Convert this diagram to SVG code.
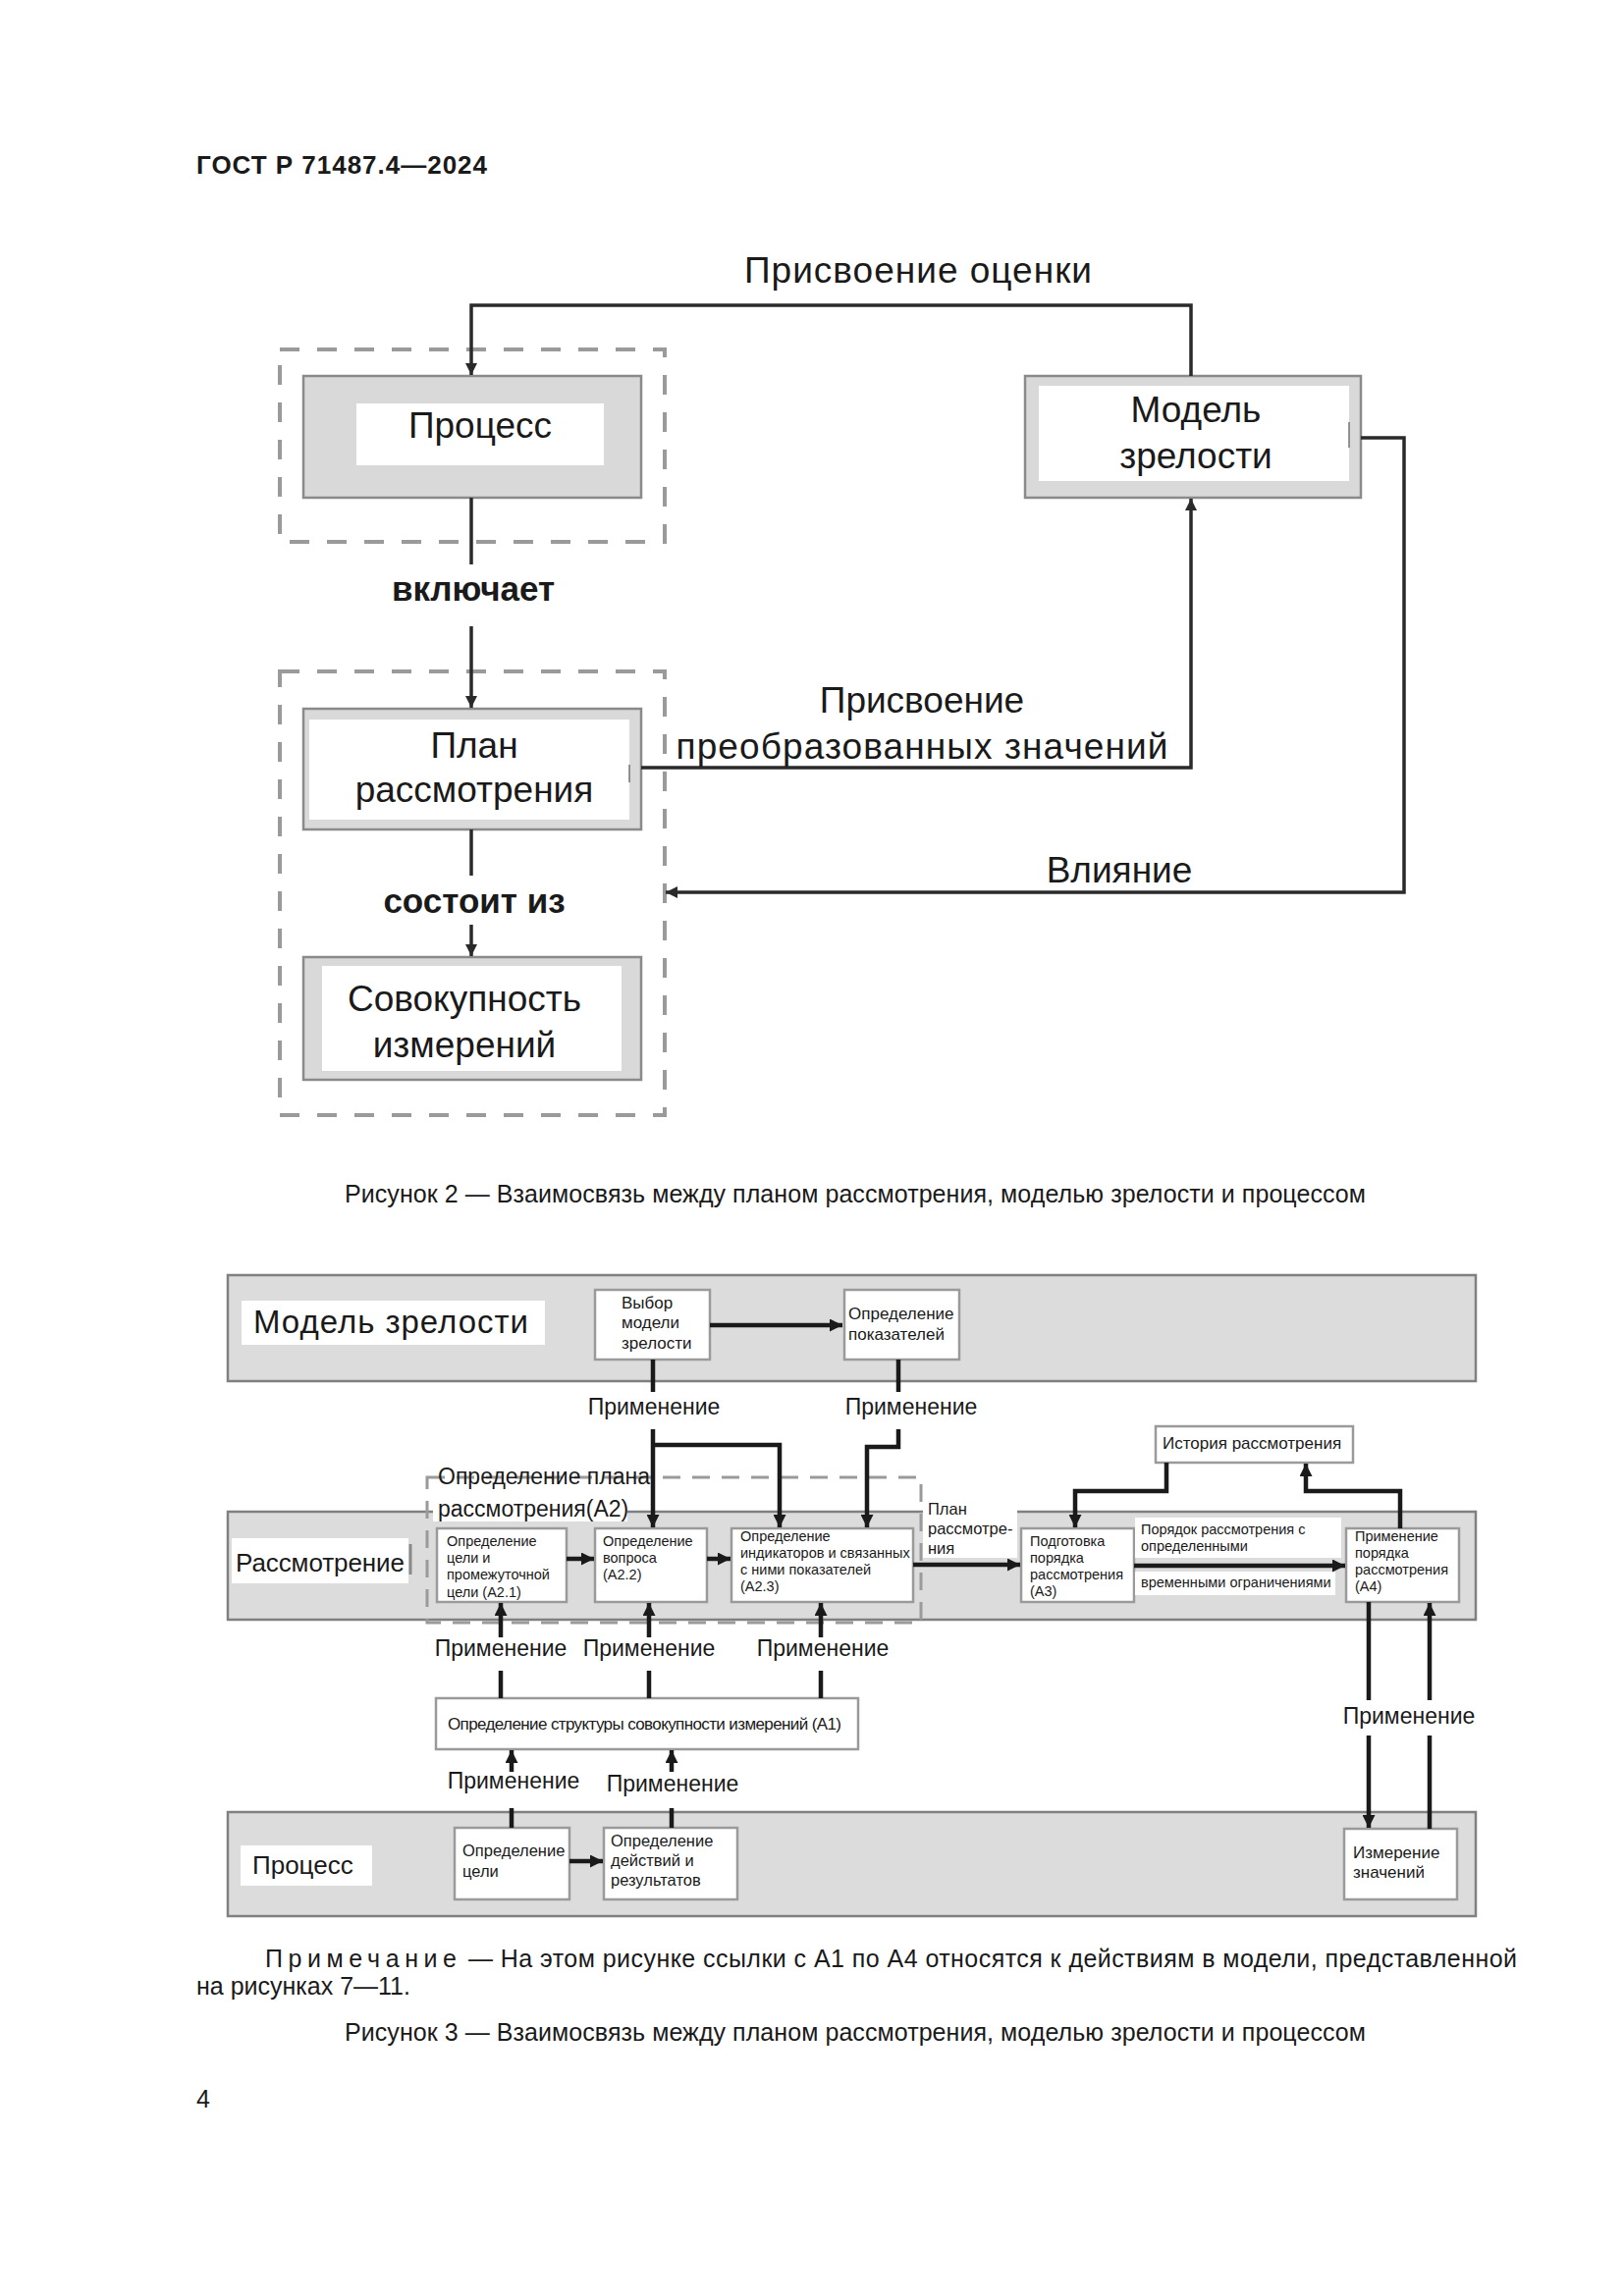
<svg xmlns="http://www.w3.org/2000/svg" width="1654" height="2339" viewBox="0 0 1654 2339">
<defs>
<style>
text{font-family:"Liberation Sans",Arial,sans-serif;fill:#1a1a1a}
.f2{font-size:37px}
.mid{text-anchor:middle}
.dash{fill:none;stroke:#9a9a9a;stroke-width:4;stroke-dasharray:20 18}
.dash3{fill:none;stroke:#9a9a9a;stroke-width:3;stroke-dasharray:18 12}
.gbox{fill:#d9d9d9;stroke:#8a8a8a;stroke-width:2.5}
.inner{fill:#ffffff}
.c2{fill:none;stroke:#2a2a2a;stroke-width:3.5}
.band{fill:#dcdcdc;stroke:#808080;stroke-width:2.5}
.wb{fill:#ffffff;stroke:#9a9a9a;stroke-width:2.5}
.lbl{fill:#ffffff}
.c3{fill:none;stroke:#1a1a1a;stroke-width:4.5}
.s{font-size:14.5px}
.m{font-size:17px}
.p{font-size:16.5px}
.ap{font-size:23px;text-anchor:middle}
.cap{font-size:25px}
.bl{font-size:35px;font-weight:bold;text-anchor:middle}
</style>
<marker id="ah2" viewBox="0 0 10 10" refX="10" refY="5" markerWidth="14" markerHeight="12" markerUnits="userSpaceOnUse" orient="auto"><path d="M0,0 L10,5 L0,10 z" fill="#2a2a2a"/></marker>
<marker id="ah3" viewBox="0 0 10 10" refX="10" refY="5" markerWidth="14" markerHeight="13" markerUnits="userSpaceOnUse" orient="auto"><path d="M0,0 L10,5 L0,10 z" fill="#1a1a1a"/></marker>
</defs>
<rect width="1654" height="2339" fill="#ffffff"/>

<text x="200" y="177" font-size="26" font-weight="bold" textLength="296">ГОСТ Р 71487.4—2024</text>

<!-- ============ FIGURE 2 ============ -->
<g id="fig2-group-process"><rect class="dash" x="285" y="356" width="392" height="196"/></g>
<g id="fig2-group-plan"><rect class="dash" x="285" y="684" width="392" height="452"/></g>

<g id="fig2-process">
<rect class="gbox" x="309" y="383" width="344" height="124"/>
<rect class="inner" x="363" y="411" width="252" height="63"/>
<text class="f2 mid" x="489" y="446">Процесс</text>
</g>

<g id="fig2-maturity-model">
<rect class="gbox" x="1044" y="383" width="342" height="124" fill="#e2e2e2"/>
<rect class="inner" x="1058" y="393" width="316" height="97"/>
<line x1="1374" y1="430" x2="1374" y2="456" stroke="#555" stroke-width="1.2"/>
<text class="f2 mid" x="1218" y="430">Модель</text>
<text class="f2 mid" x="1218" y="477">зрелости</text>
</g>

<g id="fig2-plan">
<rect class="gbox" x="309" y="722" width="344" height="123"/>
<rect class="inner" x="315" y="733" width="326" height="102"/>
<line x1="641" y1="779" x2="641" y2="797" stroke="#555" stroke-width="1.2"/>
<text class="f2 mid" x="483" y="772">План</text>
<text class="f2 mid" x="483" y="817">рассмотрения</text>
</g>

<g id="fig2-measures">
<rect class="gbox" x="309" y="975" width="344" height="125"/>
<rect class="inner" x="328" y="984" width="305" height="107"/>
<text class="f2 mid" x="473" y="1030">Совокупность</text>
<text class="f2 mid" x="473" y="1077">измерений</text>
</g>

<g id="fig2-connectors">
<path class="c2" d="M1213,383 V311 H480 V382" marker-end="url(#ah2)"/>
<line class="c2" x1="480" y1="507" x2="480" y2="575"/>
<path class="c2" d="M480,638 V721" marker-end="url(#ah2)"/>
<path class="c2" d="M653,782 H1213 V508" marker-end="url(#ah2)"/>
<line class="c2" x1="480" y1="845" x2="480" y2="892"/>
<path class="c2" d="M480,942 V974" marker-end="url(#ah2)"/>
<path class="c2" d="M1386,446 H1430 V909 H678" marker-end="url(#ah2)"/>
</g>

<g id="fig2-labels">
<text class="f2 mid" x="935" y="288" textLength="354">Присвоение оценки</text>
<text class="bl" x="482" y="612">включает</text>
<text class="f2 mid" x="939" y="726">Присвоение</text>
<text class="f2 mid" x="939" y="773" textLength="501">преобразованных значений</text>
<text class="bl" x="483" y="930">состоит из</text>
<text class="f2 mid" x="1140" y="899">Влияние</text>
</g>

<text class="cap" x="351" y="1225" textLength="1040">Рисунок 2 — Взаимосвязь между планом рассмотрения, моделью зрелости и процессом</text>

<!-- ============ FIGURE 3 ============ -->
<g id="band-maturity">
<rect class="band" x="232" y="1299" width="1271" height="108"/>
<rect class="lbl" x="246" y="1325" width="309" height="45"/>
<text x="258" y="1358" font-size="33" textLength="280">Модель зрелости</text>
</g>

<g id="band-review">
<rect class="band" x="232" y="1540" width="1271" height="110"/>
<rect class="lbl" x="236" y="1567" width="180" height="46"/>
<text x="240" y="1601" font-size="26" textLength="172">Рассмотрение</text>
<line x1="418" y1="1573" x2="418" y2="1604" stroke="#8a8a8a" stroke-width="3"/>
</g>

<g id="band-process">
<rect class="band" x="232" y="1846" width="1271" height="106"/>
<rect class="lbl" x="245" y="1880" width="134" height="41"/>
<text x="257" y="1909" font-size="26">Процесс</text>
</g>

<g id="group-A2">
<rect class="dash3" x="435" y="1505" width="503" height="148"/>
<rect class="lbl" x="441" y="1524" width="198" height="26"/>
<text x="446" y="1512" font-size="23">Определение плана</text>
<text x="446" y="1545" font-size="23">рассмотрения(A2)</text>
</g>

<g id="n-select-model">
<rect class="wb" x="606" y="1314" width="117" height="71"/>
<text class="m" x="633" y="1333">Выбор</text>
<text class="m" x="633" y="1353">модели</text>
<text class="m" x="633" y="1374">зрелости</text>
</g>

<g id="n-define-indicators">
<rect class="wb" x="860" y="1314" width="117" height="71"/>
<text class="m" x="864" y="1344">Определение</text>
<text class="m" x="864" y="1365">показателей</text>
</g>

<g id="n-history">
<rect class="wb" x="1177" y="1453" width="201" height="37"/>
<text class="m" x="1184" y="1476">История рассмотрения</text>
</g>

<g id="n-A2-1">
<rect class="wb" x="445" y="1557" width="132" height="75"/>
<text class="s" x="455" y="1575">Определение</text>
<text class="s" x="455" y="1592">цели и</text>
<text class="s" x="455" y="1609">промежуточной</text>
<text class="s" x="455" y="1627">цели (A2.1)</text>
</g>

<g id="n-A2-2">
<rect class="wb" x="606" y="1557" width="114" height="75"/>
<text class="s" x="614" y="1575">Определение</text>
<text class="s" x="614" y="1592">вопроса</text>
<text class="s" x="614" y="1609">(A2.2)</text>
</g>

<g id="n-A2-3">
<rect class="wb" x="745" y="1557" width="185" height="75"/>
<text class="s" x="754" y="1570">Определение</text>
<text class="s" x="754" y="1587">индикаторов и связанных</text>
<text class="s" x="754" y="1604">с ними показателей</text>
<text class="s" x="754" y="1621">(A2.3)</text>
</g>

<g id="lbl-plan">
<rect class="lbl" x="940" y="1524" width="96" height="63"/>
<text x="945" y="1543" font-size="16.5">План</text>
<text x="945" y="1563" font-size="16.5">рассмотре-</text>
<text x="945" y="1583" font-size="16.5">ния</text>
</g>

<g id="n-A3">
<rect class="wb" x="1040" y="1557" width="115" height="75"/>
<text class="s" x="1049" y="1575">Подготовка</text>
<text class="s" x="1049" y="1592">порядка</text>
<text class="s" x="1049" y="1609">рассмотрения</text>
<text class="s" x="1049" y="1626">(A3)</text>
</g>

<g id="lbl-order">
<rect class="lbl" x="1156" y="1546" width="210" height="41"/>
<text class="s" x="1162" y="1563">Порядок рассмотрения с</text>
<text class="s" x="1162" y="1580">определенными</text>
<rect class="lbl" x="1156" y="1601" width="204" height="24"/>
<text class="s" x="1162" y="1617">временными ограничениями</text>
</g>

<g id="n-A4">
<rect class="wb" x="1371" y="1557" width="115" height="75"/>
<text class="s" x="1380" y="1570">Применение</text>
<text class="s" x="1380" y="1587">порядка</text>
<text class="s" x="1380" y="1604">рассмотрения</text>
<text class="s" x="1380" y="1621">(A4)</text>
</g>

<g id="n-A1">
<rect class="wb" x="444" y="1730" width="430" height="52"/>
<text x="456" y="1762" font-size="17" textLength="401">Определение структуры совокупности измерений (A1)</text>
</g>

<g id="n-define-goal">
<rect class="wb" x="463" y="1862" width="117" height="73"/>
<text class="p" x="471" y="1891">Определение</text>
<text class="p" x="471" y="1912">цели</text>
</g>

<g id="n-define-actions">
<rect class="wb" x="615" y="1862" width="136" height="73"/>
<text class="p" x="622" y="1881">Определение</text>
<text class="p" x="622" y="1901">действий и</text>
<text class="p" x="622" y="1921">результатов</text>
</g>

<g id="n-measure">
<rect class="wb" x="1369" y="1863" width="115" height="72"/>
<text class="m" x="1378" y="1893">Измерение</text>
<text class="m" x="1378" y="1913">значений</text>
</g>

<g id="fig3-connectors">
<path class="c3" d="M723,1350 H858" marker-end="url(#ah3)"/>
<path class="c3" d="M665,1385 V1418"/>
<path class="c3" d="M665,1456 V1556" marker-end="url(#ah3)"/>
<path class="c3" d="M665,1472 H794 V1556" marker-end="url(#ah3)"/>
<path class="c3" d="M915,1385 V1418"/>
<path class="c3" d="M915,1456 V1474 H883 V1556" marker-end="url(#ah3)"/>
<path class="c3" d="M577,1588 H605" marker-end="url(#ah3)"/>
<path class="c3" d="M720,1588 H744" marker-end="url(#ah3)"/>
<path class="c3" d="M930,1594 H1039" marker-end="url(#ah3)"/>
<path class="c3" d="M1155,1595 H1370" marker-end="url(#ah3)"/>
<path class="c3" d="M1188,1490 V1519 H1095 V1556" marker-end="url(#ah3)"/>
<path class="c3" d="M1426,1557 V1519 H1330 V1491" marker-end="url(#ah3)"/>
<path class="c3" d="M510,1668 V1633" marker-end="url(#ah3)"/>
<path class="c3" d="M661,1668 V1633" marker-end="url(#ah3)"/>
<path class="c3" d="M836,1668 V1633" marker-end="url(#ah3)"/>
<path class="c3" d="M510,1730 V1702"/>
<path class="c3" d="M661,1730 V1702"/>
<path class="c3" d="M836,1730 V1702"/>
<path class="c3" d="M521,1805 V1783" marker-end="url(#ah3)"/>
<path class="c3" d="M684,1805 V1783" marker-end="url(#ah3)"/>
<path class="c3" d="M521,1862 V1842"/>
<path class="c3" d="M684,1862 V1842"/>
<path class="c3" d="M580,1896 H614" marker-end="url(#ah3)"/>
<path class="c3" d="M1394,1632 V1732"/>
<path class="c3" d="M1394,1768 V1862" marker-end="url(#ah3)"/>
<path class="c3" d="M1456,1863 V1768"/>
<path class="c3" d="M1456,1732 V1633" marker-end="url(#ah3)"/>
</g>

<g id="fig3-labels">
<text class="ap" x="666" y="1441">Применение</text>
<text class="ap" x="928" y="1441">Применение</text>
<text class="ap" x="510" y="1687">Применение</text>
<text class="ap" x="661" y="1687">Применение</text>
<text class="ap" x="838" y="1687">Применение</text>
<text class="ap" x="523" y="1822">Применение</text>
<text class="ap" x="685" y="1825">Применение</text>
<text class="ap" x="1435" y="1756">Применение</text>
</g>

<text class="cap" x="270" y="2004" textLength="195" lengthAdjust="spacing">Примечание</text>
<text class="cap" x="477" y="2004" textLength="1068">— На этом рисунке ссылки с A1 по A4 относятся к действиям в модели, представленной</text>
<text class="cap" x="200" y="2032">на рисунках 7—11.</text>
<text class="cap" x="351" y="2079" textLength="1040">Рисунок 3 — Взаимосвязь между планом рассмотрения, моделью зрелости и процессом</text>

<text class="cap" x="200" y="2147">4</text>
</svg>
